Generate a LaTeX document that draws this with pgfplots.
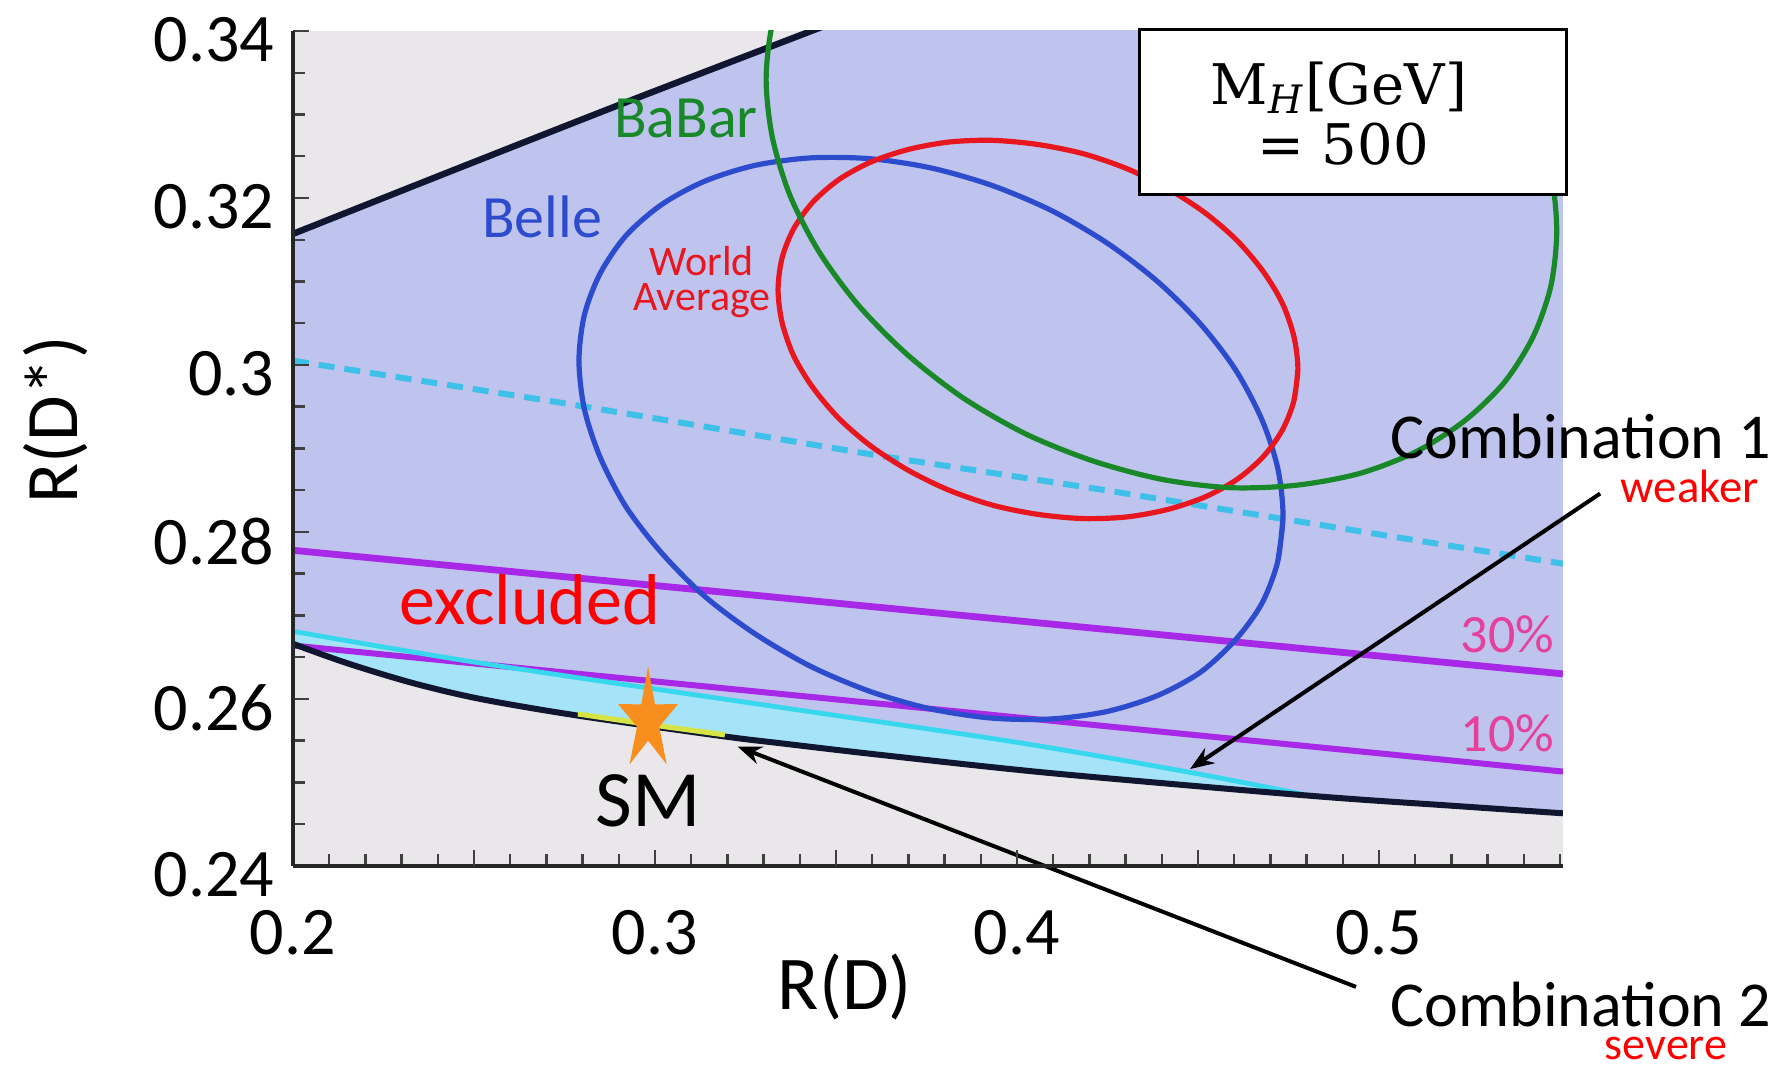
\documentclass[border=0pt]{standalone}
\usepackage{pgfplots}
\pgfplotsset{compat=1.18}
\usepackage{fontspec}
\setmainfont{Carlito}
\newfontfamily\boxfont{DejaVu Serif}
\usetikzlibrary{arrows.meta}

\definecolor{bggray}{RGB}{233,231,233}
\definecolor{lav}{RGB}{190,196,238}
\definecolor{bandcyan}{RGB}{165,228,248}
\definecolor{cyanline}{RGB}{55,215,238}
\definecolor{dashcyan}{RGB}{62,192,232}
\definecolor{purp}{RGB}{168,40,232}
\definecolor{pinklab}{RGB}{228,64,156}
\definecolor{belleblue}{RGB}{45,75,205}
\definecolor{wared}{RGB}{232,22,30}
\definecolor{babargreen}{RGB}{24,136,40}
\definecolor{navy}{RGB}{16,22,48}
\definecolor{starorange}{RGB}{247,142,30}
\definecolor{yel}{RGB}{214,228,70}

\pgfdeclareplotmark{fstar}{%
  \pgfpathmoveto{\pgfpointpolar{90}{\pgfplotmarksize}}%
  \pgfpathlineto{\pgfpointpolar{126}{0.37\pgfplotmarksize}}%
  \pgfpathlineto{\pgfpointpolar{162}{\pgfplotmarksize}}%
  \pgfpathlineto{\pgfpointpolar{198}{0.37\pgfplotmarksize}}%
  \pgfpathlineto{\pgfpointpolar{234}{\pgfplotmarksize}}%
  \pgfpathlineto{\pgfpointpolar{270}{0.37\pgfplotmarksize}}%
  \pgfpathlineto{\pgfpointpolar{306}{\pgfplotmarksize}}%
  \pgfpathlineto{\pgfpointpolar{342}{0.37\pgfplotmarksize}}%
  \pgfpathlineto{\pgfpointpolar{18}{\pgfplotmarksize}}%
  \pgfpathlineto{\pgfpointpolar{54}{0.37\pgfplotmarksize}}%
  \pgfpathclose
  \pgfusepathqfill
}

\begin{document}
\begin{tikzpicture}
\begin{axis}[
  scale only axis, width=317.5pt, height=208.75pt,
  xmin=0.2, xmax=0.5508, ymin=0.24, ymax=0.34,
  axis x line*=bottom, axis y line*=left,
  axis line style={line width=1pt, black!85},
  axis background/.style={fill=bggray},
  axis on top,
  clip mode=individual,
  xtick={0.2,0.3,0.4,0.5},
  ytick={0.24,0.26,0.28,0.3,0.32,0.34},
  minor xtick={0.21,0.22,0.23,0.24,0.26,0.27,0.28,0.29,0.31,0.32,0.33,0.34,0.36,0.37,0.38,0.39,0.41,0.42,0.43,0.44,0.46,0.47,0.48,0.49,0.51,0.52,0.53,0.54,0.55},
  extra x ticks={0.25,0.35,0.45},
  extra x tick labels={},
  minor y tick num=3,
  tick align=inside,
  major tick length=4pt, minor tick length=3pt,
  tick style={black!75, line width=0.6pt},
  ticklabel style={font=\fontsize{17}{17}\selectfont},
  /pgf/number format/assume math mode=true,
  /pgf/number format/fixed,
  xticklabel style={anchor=north, inner sep=0pt, yshift=-11pt},
  yticklabel style={anchor=east, inner sep=0pt, xshift=-4.5pt, yshift=-2.3pt},
  xlabel={R(D)},
  ylabel={R(D*)},
  xlabel style={at={(rel axis cs:0.4346,-0.1725)}, anchor=base, font=\fontsize{19}{19}\selectfont},
  ylabel style={at={(rel axis cs:-0.1866,0.5341)}, anchor=center, rotate=0, font=\fontsize{18.5}{18.5}\selectfont},
  every node/.append style={inner sep=0pt},
]

% excluded region
\addplot[draw=none, fill=lav] coordinates {(0.2,0.3157) (0.2459,0.3236) (0.2934,0.3317) (0.3426,0.3399) (0.36,0.3428) (0.6,0.3428) (0.6,0.2455) (0.5508,0.2463) (0.5204,0.2472) (0.481,0.2484) (0.4097,0.2511) (0.3622,0.2533) (0.3345,0.2547) (0.3193,0.2555) (0.2787,0.2580) (0.2517,0.2600) (0.2331,0.2619) (0.2148,0.2643) (0.2,0.2666)} -- cycle;

% combination 1 band
\addplot[draw=none, fill=bandcyan] coordinates {(0.2,0.2681) (0.2517,0.2643) (0.3345,0.2590) (0.4,0.2548) (0.4478,0.2512) (0.481,0.2484) (0.4097,0.2511) (0.3622,0.2533) (0.3345,0.2547) (0.3193,0.2555) (0.2787,0.2580) (0.2517,0.2600) (0.2331,0.2619) (0.2148,0.2643) (0.2,0.2666)} -- cycle;

% dashed cyan
\addplot[dashcyan, line width=1.5pt, dash pattern=on 4pt off 2.5pt] coordinates {(0.2,0.3005) (0.2737,0.2955) (0.3624,0.2891) (0.4229,0.2851) (0.5058,0.2793) (0.5508,0.2762)};

% purple 30% and 10%
\addplot[purp, line width=1.7pt] coordinates {(0.2,0.2778) (0.5508,0.2630)};
\addplot[purp, line width=1.5pt] coordinates {(0.2,0.2664) (0.5508,0.2513)};

% cyan upper border of band
\addplot[cyanline, line width=1.2pt, smooth] coordinates {(0.2,0.2681) (0.2517,0.2643) (0.3345,0.2590) (0.4,0.2548) (0.4478,0.2512) (0.481,0.2484)};

% lower and upper boundaries
\addplot[navy, line width=1.5pt, smooth] coordinates {(0.2,0.2666) (0.2148,0.2643) (0.2331,0.2619) (0.2517,0.2600) (0.2787,0.2580) (0.3193,0.2555) (0.3345,0.2547) (0.3622,0.2533) (0.4097,0.2511) (0.481,0.2484) (0.5204,0.2472) (0.5508,0.2463)};
\addplot[navy, line width=1.6pt, smooth] coordinates {(0.2,0.3157) (0.2459,0.3236) (0.2934,0.3317) (0.3426,0.3399) (0.36,0.3428)};

% combination 2 segment
\addplot[yel, line width=1.3pt] coordinates {(0.2787,0.2582) (0.299,0.2569) (0.3193,0.2557)};

% Belle
\addplot[belleblue, line width=1.3pt, smooth] coordinates {(0.4735,0.2819) (0.4720,0.2764) (0.4676,0.2714) (0.4604,0.2671) (0.4507,0.2632) (0.4388,0.2604) (0.4249,0.2585) (0.4095,0.2576) (0.3931,0.2577) (0.3762,0.2588) (0.3594,0.2609) (0.3430,0.2639) (0.3276,0.2678) (0.3137,0.2723) (0.3018,0.2775) (0.2920,0.2830) (0.2849,0.2889) (0.2805,0.2947) (0.2790,0.3005) (0.2805,0.3060) (0.2849,0.3110) (0.2920,0.3155) (0.3018,0.3192) (0.3137,0.3220) (0.3276,0.3239) (0.3430,0.3248) (0.3594,0.3247) (0.3762,0.3236) (0.3931,0.3215) (0.4095,0.3185) (0.4249,0.3146) (0.4388,0.3100) (0.4507,0.3049) (0.4604,0.2994) (0.4676,0.2935) (0.4720,0.2877) (0.4735,0.2819) (0.4720,0.2764)};

% World average
\addplot[wared, line width=1.3pt, smooth] coordinates {(0.4776,0.2995) (0.4765,0.2957) (0.4733,0.2922) (0.4680,0.2890) (0.4608,0.2863) (0.4520,0.2842) (0.4417,0.2827) (0.4304,0.2818) (0.4183,0.2816) (0.4058,0.2821) (0.3933,0.2832) (0.3812,0.2850) (0.3699,0.2874) (0.3596,0.2903) (0.3508,0.2936) (0.3436,0.2973) (0.3383,0.3011) (0.3351,0.3051) (0.3340,0.3090) (0.3351,0.3128) (0.3383,0.3163) (0.3436,0.3195) (0.3508,0.3222) (0.3596,0.3243) (0.3699,0.3258) (0.3812,0.3267) (0.3933,0.3269) (0.4058,0.3264) (0.4183,0.3253) (0.4304,0.3235) (0.4417,0.3211) (0.4520,0.3182) (0.4608,0.3149) (0.4680,0.3112) (0.4733,0.3074) (0.4765,0.3034) (0.4776,0.2995) (0.4765,0.2957)};

% BaBar
\addplot[babargreen, line width=1.3pt, smooth] coordinates {(0.3373,0.3469) (0.3324,0.3408) (0.3307,0.3342) (0.3324,0.3273) (0.3373,0.3203) (0.3454,0.3135) (0.3563,0.3071) (0.3698,0.3012) (0.3853,0.2960) (0.4026,0.2917) (0.4210,0.2885) (0.4400,0.2863) (0.4589,0.2853) (0.4773,0.2856) (0.4946,0.2870) (0.5102,0.2896) (0.5236,0.2933) (0.5346,0.2979) (0.5426,0.3034) (0.5475,0.3095) (0.5491,0.3161) (0.5475,0.3230) (0.5426,0.3300) (0.5346,0.3368) (0.5236,0.3432)};

% SM star
\addplot[only marks, color=starorange, mark=fstar, mark size=7.9pt, mark options={yscale=1.71, fill=starorange, draw=none}] coordinates {(0.2981,0.2574)};

% labels
\node[text=babargreen, font=\fontsize{15}{15}\selectfont] at (axis cs:0.30856,0.32958) {BaBar};
\node[text=belleblue, font=\fontsize{15}{15}\selectfont] at (axis cs:0.26878,0.31773) {Belle};
\node[text=wared, align=center, font=\fontsize{10.5}{8.7}\selectfont] at (axis cs:0.31298,0.30994) {World\\Average};
\node[text=red, anchor=base, font=\fontsize{18}{18}\selectfont] at (axis cs:0.2655,0.26886) {excluded};
\node[anchor=base, font=\fontsize{20}{20}\selectfont] at (axis cs:0.2981,0.24467) {SM};
\node[text=pinklab, anchor=base, font=\fontsize{13.5}{13.5}\selectfont] at (axis cs:0.5355,0.26551) {30\%};
\node[text=pinklab, anchor=base, font=\fontsize{13.5}{13.5}\selectfont] at (axis cs:0.5355,0.25365) {10\%};

% legend box
\node[draw=black, line width=0.75pt, fill=white, minimum width=106.75pt, minimum height=41.25pt, anchor=north west, inner sep=0pt] at (axis cs:0.43343,0.34036) {};
\node[anchor=base, font=\fontsize{14}{14}\selectfont] at (axis cs:0.48895,0.33114) {\boxfont M\textsubscript{\textit{H}}[GeV]};
\node[anchor=base, font=\fontsize{14}{14}\selectfont] at (axis cs:0.49006,0.32395) {\boxfont = 500};

% annotations
\node[anchor=base, font=\fontsize{16}{16}\selectfont] at (axis cs:0.5558,0.28874) {Combination 1};
\node[text=red, anchor=base, font=\fontsize{11.7}{11.7}\selectfont] at (axis cs:0.5859,0.28347) {weaker};
\node[anchor=base, font=\fontsize{16}{16}\selectfont] at (axis cs:0.5558,0.22072) {Combination 2};
\node[text=red, anchor=base, font=\fontsize{11.5}{11.5}\selectfont] at (axis cs:0.5793,0.21677) {severe};
\draw[-{Stealth[length=6pt,width=4.5pt]}, line width=1pt] (axis cs:0.5611,0.2846) -- (axis cs:0.4478,0.2516);
\draw[-{Stealth[length=6pt,width=4.5pt]}, line width=1pt] (axis cs:0.49365,0.22551) -- (axis cs:0.32279,0.25430);

\coordinate (bbl) at (axis cs:0.11906,0.215928);
\coordinate (btr) at (axis cs:0.6105,0.343713);
\end{axis}
\pgfresetboundingbox
\path (bbl) rectangle (btr);
\end{tikzpicture}
\end{document}
